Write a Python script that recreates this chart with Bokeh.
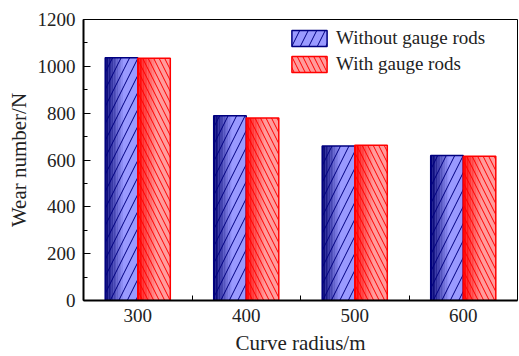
import numpy as np
from bokeh.plotting import figure
from bokeh.models import (ColumnDataSource, FixedTicker, Range1d, Legend, LegendItem)
from bokeh.embed import file_html
from bokeh.resources import INLINE

# ---- data ----
radius = [300, 400, 500, 600]
without_rods = [1037, 789, 660, 619]
with_rods = [1034, 779, 663, 616]
tick_labels = ["300", "400", "500", "600"]
series_names = ["Without gauge rods", "With gauge rods"]

FONT = "Liberation Serif"
BAR_W = 30

p = figure(width=519, height=356, output_backend="svg", toolbar_location=None,
           x_range=Range1d(250, 650), y_range=Range1d(0, 1200),
           frame_width=434, frame_height=281,
           min_border_left=83, min_border_right=2, min_border_top=19, min_border_bottom=56)
p.background_fill_color = "white"
p.border_fill_color = "white"
p.outline_line_color = "black"
p.outline_line_width = 1
p.grid.visible = False


def lerp_hex(c1, c2, t):
    a = np.array([int(c1[i:i + 2], 16) for i in (1, 3, 5)], float)
    b = np.array([int(c2[i:i + 2], 16) for i in (1, 3, 5)], float)
    c = a + (b - a) * t
    return "#%02x%02x%02x" % tuple(int(round(v)) for v in c)


def draw_series(values, center_off, dark, light, edge, hatch, spacing):
    xs = np.array(radius, float) + center_off
    base = p.vbar(x=xs, top=values, width=BAR_W, bottom=0,
                  fill_color=light, line_color=None)
    n = 12
    grad_w = BAR_W * 0.6
    sw = grad_w / n
    sx, st, sc = [], [], []
    for i in range(n):
        t = i / (n - 1)
        for x0, v in zip(xs, values):
            sx.append(x0 - BAR_W / 2 + sw * (i + 0.5))
            st.append(v)
            sc.append(lerp_hex(dark, light, t))
    src = ColumnDataSource(dict(x=sx, top=st, color=sc))
    p.vbar(x="x", top="top", width=sw * 1.05, bottom=0, source=src,
           fill_color="color", line_color=None)
    over = p.vbar(x=xs, top=values, width=BAR_W, bottom=0,
                  fill_color=light, fill_alpha=0, line_color=edge, line_width=1.5,
                  hatch_pattern=hatch, hatch_color=edge, hatch_scale=spacing,
                  hatch_weight=1)
    return base, over


b1, o1 = draw_series(without_rods, -BAR_W / 2, "#000070", "#9a9aff", "#000080", "/", 17)
b2, o2 = draw_series(with_rods, BAR_W / 2, "#ff0000", "#ff9c9c", "#ff0000", "\\", 11)

legend = Legend(items=[LegendItem(label=series_names[0], renderers=[b1, o1]),
                       LegendItem(label=series_names[1], renderers=[b2, o2])],
                location=(204, 225), padding=0, margin=0, spacing=4,
                glyph_width=44, glyph_height=20, label_height=20,
                label_standoff=5, border_line_color=None, background_fill_alpha=0,
                label_text_font=FONT, label_text_font_size="19px",
                label_text_color="#222222")
p.add_layout(legend, "center")

# axes
xa = p.xaxis[0]
xa.ticker = FixedTicker(ticks=radius, minor_ticks=[350, 450, 550])
xa.major_label_overrides = {r: t for r, t in zip(radius, tick_labels)}
xa.major_tick_in = 0
xa.major_tick_out = 0
xa.minor_tick_in = 5
xa.minor_tick_out = 0
xa.axis_line_width = 2
xa.major_label_standoff = 8
xa.axis_label = "Curve radius/m"

ya = p.yaxis[0]
ya.ticker = FixedTicker(ticks=[0, 200, 400, 600, 800, 1000, 1200],
                        minor_ticks=list(range(100, 1200, 200)))
ya.major_tick_in = 7
ya.major_tick_out = 0
ya.minor_tick_in = 4
ya.minor_tick_out = 0
ya.axis_line_width = 2
ya.major_label_standoff = 8
ya.axis_label = "Wear number/N"

for ax in (xa, ya):
    ax.major_label_text_font = FONT
    ax.major_label_text_font_size = "19px"
    ax.major_label_text_color = "#222222"
    ax.axis_label_text_font = FONT
    ax.axis_label_text_font_size = "21px"
    ax.axis_label_text_font_style = "normal"
    ax.axis_label_text_color = "#222222"
    ax.axis_line_color = "black"
    ax.major_tick_line_color = "black"
    ax.minor_tick_line_color = "black"
ya.axis_label_standoff = 4
xa.axis_label_standoff = 6

open("out.html", "w").write(file_html(p, INLINE))
